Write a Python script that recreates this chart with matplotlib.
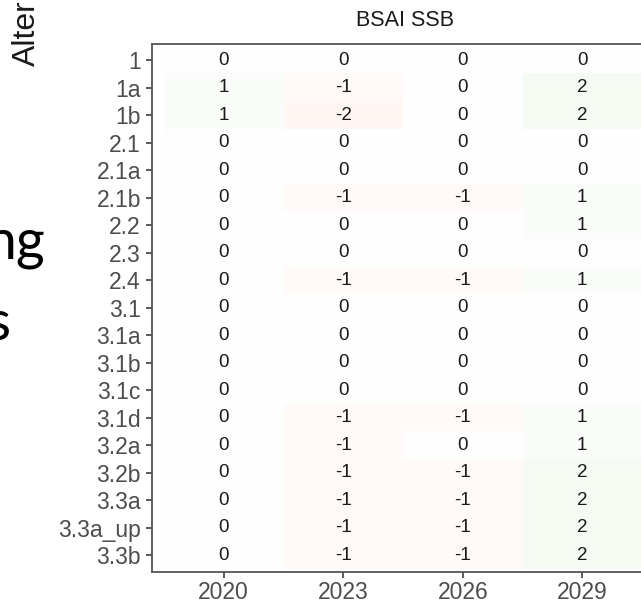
import matplotlib
matplotlib.use("Agg")
import matplotlib.pyplot as plt
import numpy as np
from matplotlib.colors import LinearSegmentedColormap, Normalize

alternatives = ["1", "1a", "1b", "2.1", "2.1a", "2.1b", "2.2", "2.3", "2.4",
                "3.1", "3.1a", "3.1b", "3.1c", "3.1d", "3.2a", "3.2b",
                "3.3a", "3.3a_up", "3.3b"]
years = ["2020", "2023", "2026", "2029"]
v2020 = [0, 1, 1, 0, 0, 0, 0, 0, 0, 0, 0, 0, 0, 0, 0, 0, 0, 0, 0]
v2023 = [0, -1, -2, 0, 0, -1, 0, 0, -1, 0, 0, 0, 0, -1, -1, -1, -1, -1, -1]
v2026 = [0, 0, 0, 0, 0, -1, 0, 0, -1, 0, 0, 0, 0, -1, 0, -1, -1, -1, -1]
v2029 = [0, 2, 2, 0, 0, 1, 1, 0, 1, 0, 0, 0, 0, 1, 1, 2, 2, 2, 2]
title = "BSAI SSB"
ylabel = "Alternative"

W, H = 641, 607
fig = plt.figure(figsize=(W / 100, H / 100), dpi=100)
fig.patch.set_facecolor("white")

ax_left = 152 / W
ax_right = 654 / W
ax_top = 1 - 43.5 / H
ax_bottom = 1 - 572 / H
ax = fig.add_axes([ax_left, ax_bottom, ax_right - ax_left, ax_top - ax_bottom])

data = np.array([v2020, v2023, v2026, v2029]).T
cmap = LinearSegmentedColormap.from_list("rg", ["#FFF5F1", "#FFFFFF", "#F5FBF2"])
norm = Normalize(vmin=-2, vmax=2)
ax.imshow(data, cmap=cmap, norm=norm, aspect="auto",
          extent=(-0.5, len(years) - 0.5, len(alternatives) - 0.5, -0.5),
          interpolation="nearest")
for i in range(len(alternatives)):
    for j in range(len(years)):
        ax.text(j, i, f"{data[i, j]:d}", ha="center", va="center",
                fontsize=13.5, color="#1a1a1a", family="Liberation Sans")

ax.set_xlim(-0.6, len(years) - 1 + 0.6)
ax.set_ylim(len(alternatives) - 1 + 0.6, -0.6)
ax.set_xticks(range(len(years)))
ax.set_xticklabels(years)
ax.set_yticks(range(len(alternatives)))
ax.set_yticklabels(alternatives)
for lab in ax.get_xticklabels() + ax.get_yticklabels():
    lab.set_family("Liberation Sans")
    lab.set_fontsize(16.5)
    lab.set_color("#4D4D4D")
ax.tick_params(axis="both", length=4.5, width=1.3, color="#4D4D4D")
ax.tick_params(axis="y", pad=3.5)
ax.tick_params(axis="x", pad=2)
for s in ["left", "bottom", "top"]:
    ax.spines[s].set_color("#555555")
    ax.spines[s].set_linewidth(1.3)
ax.spines["right"].set_visible(False)

fig.text(405 / W, 1 - 21 / H, title, ha="center", va="center",
         fontsize=15.5, family="Liberation Sans", color="#1a1a1a")
fig.text(27 / W, 1 - 66 / H, ylabel, rotation=90, ha="center", va="bottom",
         fontsize=23, family="Liberation Sans", color="#1a1a1a")

# background slide text partially hidden behind the chart
fig.text(45 / W, 1 - 258 / H, "ng", ha="right", va="baseline",
         fontsize=40, family="Lato", color="black")
fig.text(10 / W, 1 - 340 / H, "s", ha="right", va="baseline",
         fontsize=40, family="Lato", color="black")

fig.savefig("out.png", dpi=100, facecolor="white")
